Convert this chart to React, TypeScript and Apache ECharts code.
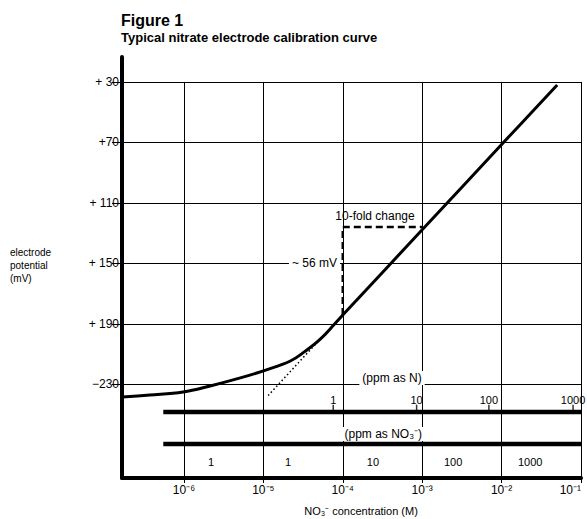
import React, { useEffect, useRef } from "react";
import * as echarts from "echarts";

// ---------- data ----------
const titleText = "Figure 1";
const subtitleText = "Typical nitrate electrode calibration curve";
const yAxisName = "electrode\npotential\n(mV)";
const xAxisName = "NO\u2083\u207B concentration (M)";

const yTickValues = [30, 70, 110, 150, 190, 230];
const yTickLabels = ["+ 30", "+70", "+ 110", "+ 150", "+ 190", "\u2212230"];
const xDecadeValues = [-6, -5, -4, -3, -2, -1];
const xDecadeLabels = ["10\u207B\u2076", "10\u207B\u2075", "10\u207B\u2074", "10\u207B\u00B3", "10\u207B\u00B2", "10\u207B\u00B9"];

// calibration curve: log10 [NO3-] (M) vs potential (mV, as labelled)
const curveLogM = [-6.78, -6.43, -6.01, -5.67, -5.29, -4.97, -4.66, -4.48, -4.29, -4.1, -4.0, -3.0, -2.0, -1.3];
const curveMV = [238.4, 237.1, 235.1, 231.1, 225.8, 220.6, 214.6, 208.4, 200.5, 190, 184.2, 127.8, 71.4, 32];

// dotted extrapolation of the linear part
const extrapLogM = [-4.94, -4.3];
const extrapMV = [237.5, 201];

// 10-fold change construction
const foldLogM = [-4, -4, -3];
const foldMV = [184.2, 126, 126];
const foldLabel = "10-fold change";
const slopeLabel = "~ 56 mV";

// ppm scales
const ppmNTitle = "(ppm as N)";
const ppmNLabels = ["1", "10", "100", "1000"];
const ppmNLogM = [-4.12, -3.07, -2.16, -1.1];
const ppmNO3Title = "(ppm as NO\u2083\u207B)";
const ppmNO3Labels = ["1", "1", "10", "100", "1000"];
const ppmNO3LogM = [-5.66, -4.69, -3.62, -2.61, -1.64];

// ---------- layout constants ----------
const X_MIN = -6.78;
const X_MAX = -1;
const Y_MIN = 13.5;
const Y_MAX = 292;
const SCALE_START = -6.26;
const N_LINE = 248.3;
const NO3_LINE = 269.5;
const N_LABEL_Y = 240.4;
const N_TICK_Y = 245.8;
const NO3_LABEL_Y = 281.4;
const FONT = "'Liberation Sans', Arial, Helvetica, sans-serif";

export default function App() {
  const ref = useRef<HTMLDivElement>(null);

  useEffect(() => {
    if (!ref.current) return;
    const chart = echarts.init(ref.current, null, { renderer: "svg" });

    const hLines = yTickValues.map((v) => ({ yAxis: v }));
    const vLines = xDecadeValues.map((x) => [
      { coord: [x, yTickValues[0]] },
      { coord: [x, Y_MAX] },
    ]);

    const baseGraphic: any[] = [
      {
        type: "text",
        x: 121,
        y: 20,
        style: { text: titleText, font: `bold 16px ${FONT}`, fill: "#000", verticalAlign: "middle" },
      },
      {
        type: "text",
        x: 121,
        y: 37,
        style: { text: subtitleText, font: `bold 13px ${FONT}`, fill: "#000", verticalAlign: "middle" },
      },
      {
        type: "text",
        x: 10,
        y: 246,
        style: { text: yAxisName, font: `10px ${FONT}`, lineHeight: 13, fill: "#000", verticalAlign: "top" },
      },
      {
        type: "text",
        x: 361,
        y: 511,
        style: { text: xAxisName, font: `11px ${FONT}`, fill: "#000", align: "center", verticalAlign: "middle" },
      },
    ];

    const option: any = {
      animation: false,
      backgroundColor: "#fff",
      grid: { left: 122, right: 6, top: 57, bottom: 41, outerBoundsMode: "none", containLabel: false },
      xAxis: {
        type: "value",
        min: X_MIN,
        max: X_MAX,
        splitLine: { show: false },
        axisLine: { show: true, onZero: false, lineStyle: { color: "#000", width: 4 } },
        axisTick: {
          show: true,
          customValues: xDecadeValues,
          length: 5,
          lineStyle: { color: "#000", width: 1 },
        },
        axisLabel: {
          customValues: xDecadeValues,
          margin: 6,
          color: "#000",
          fontFamily: FONT,
          fontSize: 12,
          alignMaxLabel: "right",
          formatter: (v: number) => {
            const i = xDecadeValues.findIndex((d) => Math.abs(d - v) < 1e-6);
            return i >= 0 ? xDecadeLabels[i] : "";
          },
        },
      },
      yAxis: {
        type: "value",
        inverse: true,
        min: Y_MIN,
        max: Y_MAX,
        splitLine: { show: false },
        axisLine: { show: true, onZero: false, lineStyle: { color: "#000", width: 4 } },
        axisTick: {
          show: true,
          customValues: yTickValues,
          length: 10,
          lineStyle: { color: "#000", width: 1 },
        },
        axisLabel: {
          customValues: yTickValues,
          margin: 3,
          color: "#000",
          fontFamily: FONT,
          fontSize: 12,
          formatter: (v: number) => {
            const i = yTickValues.findIndex((d) => Math.abs(d - v) < 1e-6);
            return i >= 0 ? yTickLabels[i] : "";
          },
        },
      },
      graphic: baseGraphic,
      series: [
        {
          name: "grid",
          type: "line",
          data: [],
          z: 1,
          silent: true,
          markLine: {
            silent: true,
            symbol: ["none", "none"],
            label: { show: false },
            lineStyle: { color: "#000", width: 1, type: "solid" },
            data: [...hLines, ...vLines],
          },
        },
        {
          name: "ppmN",
          type: "line",
          z: 3,
          silent: true,
          symbol: "none",
          lineStyle: { color: "#000", width: 4.5 },
          data: [
            [SCALE_START, N_LINE],
            [X_MAX, N_LINE],
          ],
        },
        {
          name: "ppmNO3",
          type: "line",
          z: 3,
          silent: true,
          symbol: "none",
          lineStyle: { color: "#000", width: 4.5 },
          data: [
            [SCALE_START, NO3_LINE],
            [X_MAX, NO3_LINE],
          ],
        },
        {
          name: "ppmNTicks",
          type: "scatter",
          z: 3,
          silent: true,
          symbol: "rect",
          symbolSize: [1.5, 7],
          itemStyle: { color: "#000" },
          data: ppmNLogM.map((x) => [x, N_TICK_Y]),
        },
        {
          name: "curve",
          type: "line",
          z: 4,
          silent: true,
          symbol: "none",
          smooth: 0.4,
          lineStyle: { color: "#000", width: 3 },
          data: curveLogM.map((x, i) => [x, curveMV[i]]),
        },
        {
          name: "extrapolation",
          type: "line",
          z: 4,
          silent: true,
          symbol: "none",
          lineStyle: { color: "#000", width: 1.5, type: [1.5, 2.5] },
          data: extrapLogM.map((x, i) => [x, extrapMV[i]]),
        },
        {
          name: "fold",
          type: "line",
          z: 4,
          silent: true,
          symbol: "none",
          lineStyle: { color: "#000", width: 2.5, type: [7, 4] },
          data: foldLogM.map((x, i) => [x, foldMV[i]]),
        },
      ],
    };

    chart.setOption(option);

    // annotation texts placed through the chart's own scales
    type Note = { text: string; x: number; y: number; size: number; align?: string; bg?: boolean };
    const notes: Note[] = [
      ...ppmNLogM.map((x, i) => ({ text: ppmNLabels[i], x, y: N_LABEL_Y, size: 11 })),
      ...ppmNO3LogM.map((x, i) => ({ text: ppmNO3Labels[i], x, y: NO3_LABEL_Y, size: 11 })),
      { text: ppmNTitle, x: -3.38, y: 225.9, size: 12, bg: true },
      { text: ppmNO3Title, x: -3.49, y: 262.9, size: 12, bg: true },
      { text: foldLabel, x: -3.594, y: 118.5, size: 12 },
      { text: slopeLabel, x: -4.035, y: 149.8, size: 12, align: "right", bg: true },
    ];
    const noteGraphic = notes.map((n) => {
      const p = chart.convertToPixel({ gridIndex: 0 }, [n.x, n.y]) as number[];
      return {
        type: "text",
        x: p[0],
        y: p[1],
        z: 10,
        silent: true,
        style: {
          text: n.text,
          font: `${n.size}px ${FONT}`,
          fill: "#000",
          align: n.align || "center",
          verticalAlign: "middle",
          backgroundColor: n.bg ? "#fff" : undefined,
          padding: n.bg ? [1, 3] : 0,
        },
      };
    });
    chart.setOption({ graphic: [...baseGraphic, ...noteGraphic] });

    return () => chart.dispose();
  }, []);

  return (
    <div
      ref={ref}
      style={{ position: "absolute", left: 0, top: 0, width: 587, height: 519, background: "#fff" }}
    />
  );
}
